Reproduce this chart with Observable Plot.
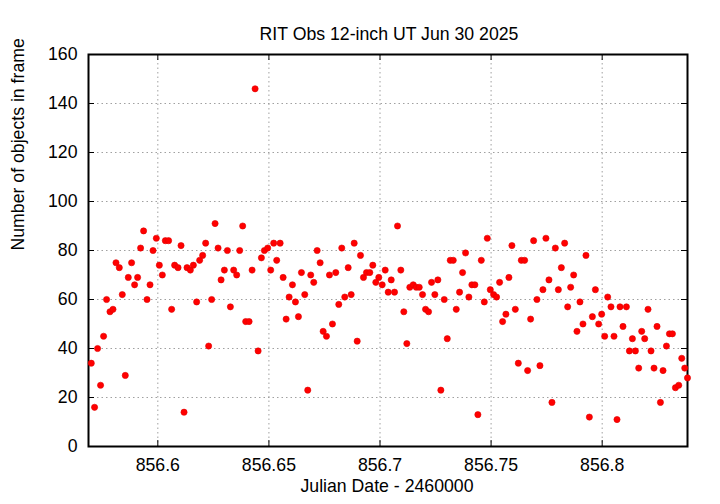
<!DOCTYPE html>
<html>
<head>
<meta charset="utf-8">
<script src="https://cdn.jsdelivr.net/npm/d3@7"></script>
<script src="https://cdn.jsdelivr.net/npm/@observablehq/plot@0.6"></script>
<style>
  html, body { margin: 0; padding: 0; background: #fff; }
</style>
</head>
<body>
<div id="chart"></div>
<script>
const titleText = "RIT Obs 12-inch UT Jun 30 2025";
const xLabel = "Julian Date - 2460000";
const yLabel = "Number of objects in frame";

const xTicks = [856.6, 856.65, 856.7, 856.75, 856.8];
const yTicks = [0, 20, 40, 60, 80, 100, 120, 140, 160];
const xDomain = [856.5688, 856.8384];
const yDomain = [0, 160];

const jd = [
  856.57005, 856.57153, 856.57288, 856.57423, 856.57559, 856.57694, 856.57847, 856.57982, 856.58117, 856.58266,
  856.58401, 856.58536, 856.58671, 856.58820, 856.58955, 856.59090, 856.59225, 856.59360, 856.59514, 856.59649,
  856.59784, 856.59932, 856.60068, 856.60203, 856.60338, 856.60486, 856.60622, 856.60757, 856.60910, 856.61045,
  856.61180, 856.61315, 856.61464, 856.61599, 856.61748, 856.61883, 856.62018, 856.62153, 856.62288, 856.62423,
  856.62577, 856.62712, 856.62847, 856.62995, 856.63131, 856.63266, 856.63414, 856.63550, 856.63685, 856.63820,
  856.63955, 856.64108, 856.64243, 856.64378, 856.64514, 856.64662, 856.64797, 856.64946, 856.65081, 856.65216,
  856.65351, 856.65505, 856.65640, 856.65775, 856.65910, 856.66059, 856.66194, 856.66329, 856.66464, 856.66613,
  856.66748, 856.66883, 856.67018, 856.67171, 856.67306, 856.67441, 856.67590, 856.67725, 856.67860, 856.68009,
  856.68144, 856.68279, 856.68414, 856.68568, 856.68703, 856.68838, 856.68973, 856.69122, 856.69257, 856.69392,
  856.69541, 856.69676, 856.69811, 856.69946, 856.70099, 856.70234, 856.70369, 856.70505, 856.70653, 856.70788,
  856.70937, 856.71072, 856.71207, 856.71342, 856.71495, 856.71631, 856.71766, 856.71914, 856.72050, 856.72185,
  856.72320, 856.72468, 856.72604, 856.72739, 856.72892, 856.73027, 856.73162, 856.73297, 856.73432, 856.73581,
  856.73716, 856.73851, 856.74000, 856.74135, 856.74270, 856.74405, 856.74559, 856.74694, 856.74829, 856.74964,
  856.75113, 856.75248, 856.75383, 856.75518, 856.75667, 856.75802, 856.75937, 856.76090, 856.76225, 856.76360,
  856.76509, 856.76644, 856.76779, 856.76914, 856.77063, 856.77198, 856.77333, 856.77468, 856.77604, 856.77739,
  856.77892, 856.78027, 856.78162, 856.78311, 856.78446, 856.78581, 856.78716, 856.78865, 856.79000, 856.79135,
  856.79270, 856.79423, 856.79559, 856.79694, 856.79842, 856.79977, 856.80113, 856.80248, 856.80396, 856.80532,
  856.80667, 856.80802, 856.80937, 856.81090, 856.81225, 856.81360, 856.81495, 856.81644, 856.81779, 856.81914,
  856.82063, 856.82198, 856.82333, 856.82468, 856.82622, 856.82739, 856.82892, 856.83027, 856.83162, 856.83297,
  856.83446, 856.83581, 856.83716, 856.83840
];

const counts = [
  34, 16, 40, 25, 45, 60, 55, 56, 75, 73,
  62, 29, 69, 75, 66, 69, 81, 88, 60, 66,
  80, 85, 74, 70, 84, 84, 56, 74, 73, 82,
  14, 73, 72, 74, 59, 76, 78, 83, 41, 60,
  91, 81, 68, 72, 80, 57, 72, 70, 80, 90,
  51, 51, 72, 146, 39, 77, 80, 81, 72, 83,
  76, 83, 69, 52, 61, 66, 59, 53, 71, 62,
  23, 70, 67, 80, 75, 47, 45, 70, 50, 71,
  58, 81, 61, 73, 62, 83, 43, 78, 69, 71,
  71, 74, 67, 69, 66, 72, 63, 68, 63, 90,
  72, 55, 42, 65, 66, 65, 65, 62, 56, 55,
  67, 62, 68, 23, 60, 44, 76, 76, 56, 63,
  71, 79, 61, 66, 66, 13, 76, 59, 85, 64,
  62, 61, 67, 51, 54, 69, 82, 56, 34, 76,
  76, 31, 52, 84, 60, 33, 64, 85, 68, 18,
  81, 64, 73, 83, 57, 65, 70, 47, 59, 50,
  78, 12, 53, 64, 50, 54, 45, 61, 57, 45,
  11, 57, 49, 57, 39, 44, 39, 32, 47, 44,
  56, 39, 32, 49, 18, 31, 41, 46, 46, 24,
  25, 36, 32, 28
];

const points = jd.map((x, i) => ({x, y: counts[i]}));

const fontFamily = "'Liberation Sans', Arial, Helvetica, sans-serif";
const fs = 17.7;
const fmtX = d => String(+d.toFixed(2));

const chart = Plot.plot({
  width: 720,
  height: 504,
  marginLeft: 88,
  marginRight: 33,
  marginTop: 54,
  marginBottom: 58,
  style: {fontFamily, fontSize: fs + "px", color: "black", background: "white"},
  x: {domain: xDomain, ticks: xTicks},
  y: {domain: yDomain, ticks: yTicks},
  marks: [
    // dotted grid
    Plot.ruleX(xTicks, {x: d => d, stroke: "#a0a0a0", strokeWidth: 1, strokeDasharray: "1.5,3"}),
    Plot.ruleY(yTicks.filter(d => d > 0 && d < 160), {y: d => d, stroke: "#a0a0a0", strokeWidth: 1, strokeDasharray: "1.5,3"}),
    // inward ticks, bottom & top
    Plot.ruleX(xTicks, {x: d => d, y1: yDomain[0], y2: yDomain[0], insetTop: -6, stroke: "black", strokeWidth: 1}),
    Plot.ruleX(xTicks, {x: d => d, y1: yDomain[1], y2: yDomain[1], insetBottom: -6, stroke: "black", strokeWidth: 1}),
    // inward ticks, left & right
    Plot.ruleY(yTicks, {y: d => d, x1: xDomain[0], x2: xDomain[0], insetRight: -6, stroke: "black", strokeWidth: 1}),
    Plot.ruleY(yTicks, {y: d => d, x1: xDomain[1], x2: xDomain[1], insetLeft: -6, stroke: "black", strokeWidth: 1}),
    Plot.frame({stroke: "black", strokeWidth: 2}),
    Plot.axisX(xTicks, {anchor: "bottom", tickSize: 0, tickPadding: 12, tickFormat: fmtX, label: null, fontSize: fs}),
    Plot.axisY(yTicks, {anchor: "left", tickSize: 0, tickPadding: 11, label: null, fontSize: fs}),
    Plot.dot(points, {x: "x", y: "y", r: 3.1, fill: "#ff0000", stroke: "#e00000", strokeWidth: 0.6}),
    Plot.text([titleText], {frameAnchor: "top", dy: -27, fontSize: fs, text: d => d, fill: "black", dx: 1}),
    Plot.text([xLabel], {frameAnchor: "bottom", dy: 45, fontSize: fs, text: d => d, fill: "black", dx: -1}),
    Plot.text([yLabel], {frameAnchor: "left", dx: -70, rotate: -90, fontSize: fs, text: d => d, fill: "black"})
  ]
});

document.getElementById("chart").appendChild(chart);
</script>
</body>
</html>
